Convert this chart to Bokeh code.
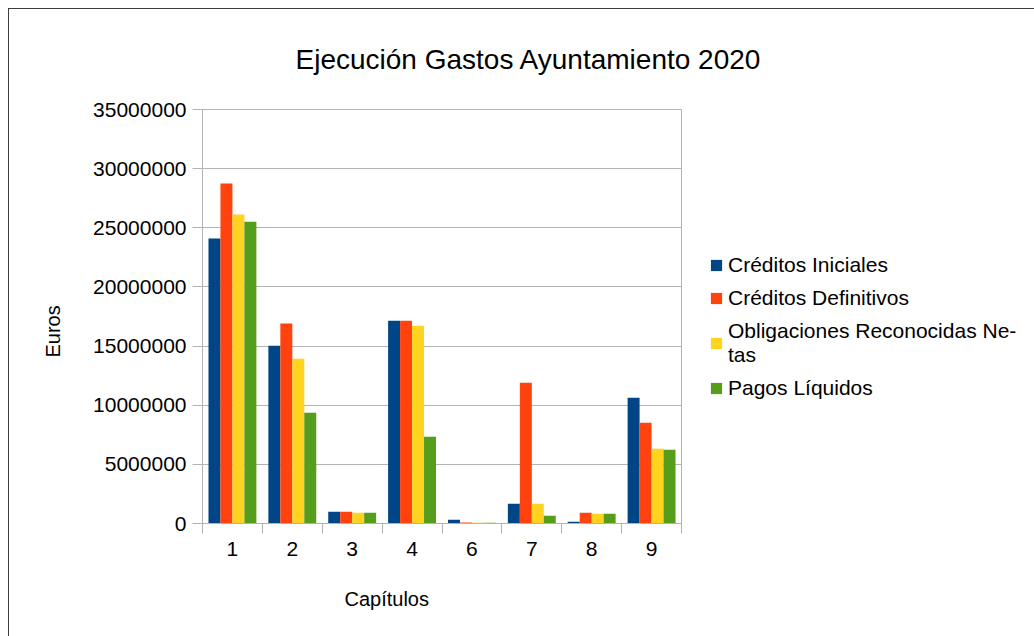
from bokeh.plotting import figure
from bokeh.models import (ColumnDataSource, Range1d, FixedTicker, NumeralTickFormatter,
                          Legend, LegendItem, Title)
from bokeh.transform import dodge
from bokeh.embed import file_html
from bokeh.resources import INLINE

# ---- data ----
categories = ["1", "2", "3", "4", "6", "7", "8", "9"]
creditos_iniciales = [24090000, 15030000, 990000, 17150000, 310000, 1670000, 140000, 10630000]
creditos_definitivos = [28740000, 16900000, 990000, 17150000, 80000, 11900000, 900000, 8520000]
obligaciones_netas = [26120000, 13930000, 900000, 16720000, 60000, 1670000, 820000, 6320000]
pagos_liquidos = [25520000, 9370000, 900000, 7330000, 70000, 650000, 820000, 6240000]
series_names = ["Créditos Iniciales", "Créditos Definitivos",
                "Obligaciones Reconocidas Ne-\ntas", "Pagos Líquidos"]
series_colors = ["#004586", "#ff420e", "#ffd320", "#579d1c"]
y_ticks = [0, 5000000, 10000000, 15000000, 20000000, 25000000, 30000000, 35000000]

FONT = "Liberation Sans"
GRID = "#b3b3b3"

n = len(categories)
centers = [i + 0.5 for i in range(n)]
src = ColumnDataSource(dict(x=centers, cat=categories,
                            ci=creditos_iniciales, cd=creditos_definitivos,
                            on=obligaciones_netas, pl=pagos_liquidos))

p = figure(frame_width=479, frame_height=414, x_range=Range1d(0, n), y_range=Range1d(0, y_ticks[-1]),
           output_backend="svg", toolbar_location=None,
           min_border_left=193, min_border_right=352, min_border_top=100, min_border_bottom=100)
p.styles = {"margin-left": "8px", "margin-top": "8px",
            "border-top": "1px solid #3c3c3c", "border-left": "1px solid #3c3c3c"}

cols = ["ci", "cd", "on", "pl"]
offsets = [-0.3, -0.1, 0.1, 0.3]
items = []
for col, name, color, off in zip(cols, series_names, series_colors, offsets):
    r = p.vbar(x=dodge("x", off, range=p.x_range), top=col, width=0.2, source=src,
               fill_color=color, line_color=None)
    items.append(LegendItem(label=name, renderers=[r]))

# title
p.title.text = "Ejecución Gastos Ayuntamiento 2020"
p.title.text_font = FONT
p.title.text_font_size = "28px"
p.title.text_font_style = "normal"
p.title.text_color = "#000000"
p.title.align = "left"
p.title.offset = 93
p.title.vertical_align = "middle"
p.title.standoff = 67

# frame / grid
p.outline_line_color = GRID
p.xgrid.visible = False
p.ygrid.grid_line_color = GRID
p.ygrid.ticker = FixedTicker(ticks=y_ticks)

# x axis
xa = p.xaxis[0]
xa.ticker = FixedTicker(ticks=centers, minor_ticks=list(range(n + 1)))
xa.major_label_overrides = {c: cat for c, cat in zip(centers, categories)}
xa.major_tick_line_color = None
xa.major_tick_out = 10
xa.major_tick_in = 0
xa.minor_tick_line_color = GRID
xa.minor_tick_out = 10
xa.minor_tick_in = 0
xa.axis_line_color = GRID
xa.major_label_standoff = 8
xa.major_label_text_font = FONT
xa.major_label_text_font_size = "21px"
xa.major_label_text_color = "#000000"

# y axis
ya = p.yaxis[0]
ya.ticker = FixedTicker(ticks=y_ticks)
ya.formatter = NumeralTickFormatter(format="0")
ya.major_tick_line_color = GRID
ya.major_tick_out = 10
ya.major_tick_in = 0
ya.minor_tick_line_color = None
ya.axis_line_color = GRID
ya.major_label_standoff = 6
ya.major_label_text_font = FONT
ya.major_label_text_font_size = "21px"
ya.major_label_text_color = "#000000"

# axis titles (as side titles so they can be placed off-centre like the reference)
p.add_layout(Title(text="Capítulos", align="left", offset=142, standoff=58,
                   vertical_align="top",
                   text_font=FONT, text_font_size="20px", text_font_style="normal",
                   text_color="#000000"), "below")
p.add_layout(Title(text="Euros", align="left", offset=166, standoff=54,
                   text_font=FONT, text_font_size="20px", text_font_style="normal",
                   text_color="#000000"), "left")

# legend
legend = Legend(items=items, location=(28, 123), margin=0, padding=0,
                border_line_color=None, background_fill_alpha=0,
                glyph_width=14, glyph_height=14, label_standoff=5, spacing=9,
                label_text_font=FONT, label_text_font_size="21px", label_text_color="#000000")
p.add_layout(legend, "right")

open("out.html", "w").write(file_html(p, INLINE))
